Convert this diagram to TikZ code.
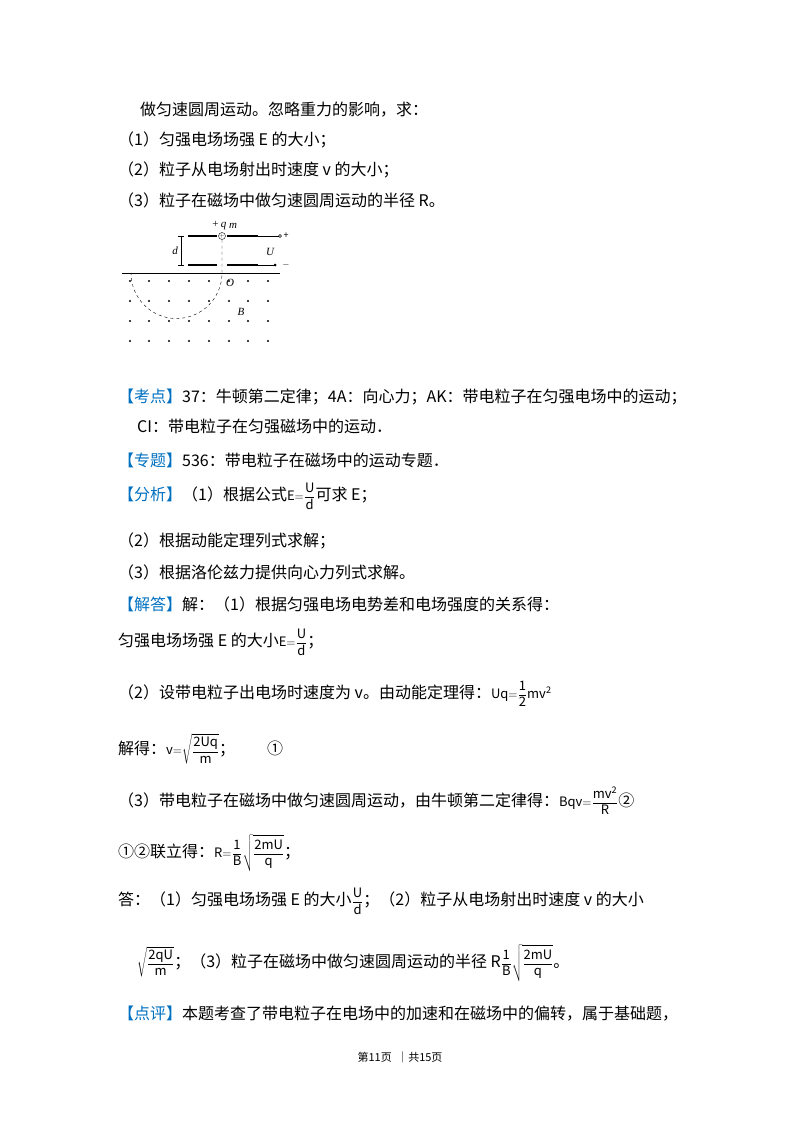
\documentclass[tikz,border=0pt]{standalone}
\usepackage{fontspec}
\setmainfont{Noto Sans CJK SC}
\newfontfamily\mf{Liberation Serif}
\begin{document}
\begin{tikzpicture}[x=1pt,y=-1pt,
  tx/.style={anchor=west,inner sep=0pt,font=\fontsize{16}{18}\selectfont},
  mlab/.style={inner sep=0pt,font=\mf\itshape\fontsize{11}{12}\selectfont},
  plate/.style={line width=1.2pt},
  dotm/.style={circle,fill=black,inner sep=0pt,minimum size=2.2pt}]
\useasboundingbox (0,0) rectangle (800,1132);
\definecolor{hb}{RGB}{0,112,192}
\newcommand{\hd}[1]{\textcolor{hb}{【#1】}}
\newcommand{\mt}[1]{{\fontsize{13}{14}\selectfont$\displaystyle\mathrm{#1}$}}
\node[tx] (l1) at (140,110) {做匀速圆周运动。忽略重力的影响，求：};
\node[tx] (l2) at (118,140) {（1）匀强电场场强 E 的大小；};
\node[tx] (l3) at (118,170) {（2）粒子从电场射出时速度 v 的大小；};
\node[tx] (l4) at (118,200) {（3）粒子在磁场中做匀速圆周运动的半径 R。};
% figure
\draw[plate] (188,236) -- (217,236) (227,236) -- (258,236);
\draw (258,236) -- (279,236);
\node[draw,circle,inner sep=0pt,minimum size=3pt] (tr) at (280,236) {};
\draw[plate] (188,265) -- (217,265) (227,265) -- (258,265);
\draw (258,265) -- (275,265);
\node[circle,fill=black,inner sep=0pt,minimum size=3pt] (br) at (275,265) {};
\node[draw,circle,inner sep=0pt,minimum size=7pt] (p) at (222,236) {};
\node[inner sep=0pt,font=\fontsize{5}{5}\selectfont] at (222,236) {$+$};
\node[mlab] (pq) at (219,226) {+\,\textit{q}};
\node[mlab] (pm) at (233,226) {m};
\node[inner sep=0pt,font=\fontsize{9}{9}\selectfont] (pl) at (286,236) {+};
\node[inner sep=0pt,font=\fontsize{9}{9}\selectfont] (mi) at (286,265) {$-$};
\node[mlab] (U) at (270,252) {U};
\draw[|-|] (181,236) -- (181,265);
\node[mlab] (d) at (175,251) {d};
\draw[line width=1pt] (122,273) -- (280,273);
\node[mlab] (O) at (230,283) {O};
\node[mlab] (B) at (241,312) {B};
\draw[dashed] (p.south) -- (222,273) arc[start angle=0,end angle=180,radius=45.5];
\foreach \y in {281,301,321,341}
  \foreach \x in {130,149,169,189,209,229,248,268}
    \node[dotm] at (\x,\y) {};
% text
\node[tx] (a1) at (118,397) {\hd{考点}37：牛顿第二定律；4A：向心力；AK：带电粒子在匀强电场中的运动；};
\node[tx] (a2) at (137,426) {CI：带电粒子在匀强磁场中的运动．};
\node[tx] (a3) at (118,460) {\hd{专题}536：带电粒子在磁场中的运动专题．};
\node[tx] (a4) at (118,496) {\hd{分析}（1）根据公式\mt{E{=}\frac{U}{d}}可求 E；};
\node[tx] (a5) at (118,541) {（2）根据动能定理列式求解；};
\node[tx] (a6) at (118,572) {（3）根据洛伦兹力提供向心力列式求解。};
\node[tx] (a7) at (118,604) {\hd{解答}解：（1）根据匀强电场电势差和电场强度的关系得：};
\node[tx] (a8) at (118,642) {匀强电场场强 E 的大小\mt{E{=}\frac{U}{d}}；};
\node[tx] (a9) at (118,694) {（2）设带电粒子出电场时速度为 v。由动能定理得：\mt{Uq{=}\frac{1}{2}mv^{2}}};
\node[tx] (a10) at (118,749) {解得：\mt{v{=}\sqrt{\frac{2Uq}{m}}}；\qquad ①};
\node[tx] (a11) at (118,801) {（3）带电粒子在磁场中做匀速圆周运动，由牛顿第二定律得：\mt{Bqv{=}\frac{mv^{2}}{R}}②};
\node[tx] (a12) at (118,853) {①②联立得：\mt{R{=}\frac{1}{B}\sqrt{\frac{2mU}{q}}}；};
\node[tx] (a13) at (118,901) {答：（1）匀强电场场强 E 的大小\mt{\frac{U}{d}}；（2）粒子从电场射出时速度 v 的大小};
\node[tx] (a14) at (137,963) {\mt{\sqrt{\frac{2qU}{m}}}；（3）粒子在磁场中做匀速圆周运动的半径 R\mt{\frac{1}{B}\sqrt{\frac{2mU}{q}}}。};
\node[tx] (a15) at (118,1014) {\hd{点评}本题考查了带电粒子在电场中的加速和在磁场中的偏转，属于基础题，};
\node[inner sep=0pt,font=\fontsize{11}{12}\selectfont] (ft) at (400,1057) {第11页\enspace｜共15页};
\end{tikzpicture}
\end{document}
